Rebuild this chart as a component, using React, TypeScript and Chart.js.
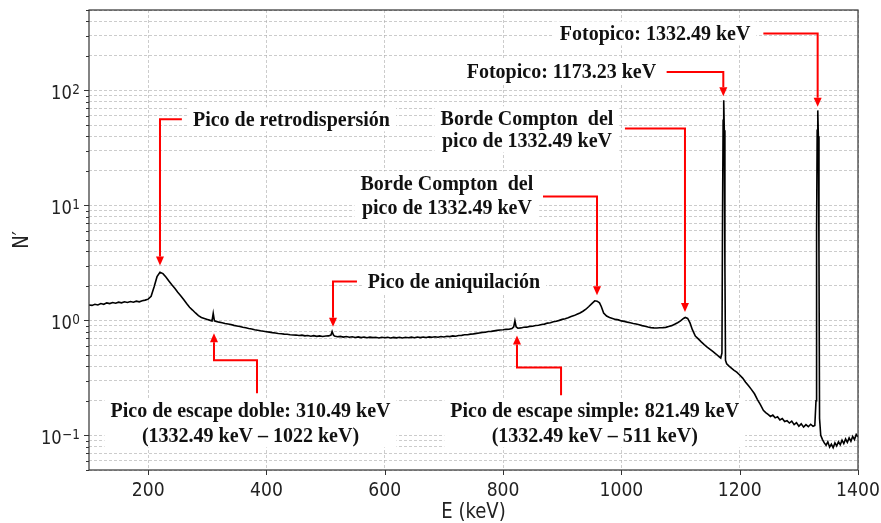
import React, { useEffect, useRef } from 'react';
import { Chart, registerables } from 'chart.js';

Chart.register(...registerables);

// ---------- data ----------
const energyKeV = [
  100, 105, 110, 115, 120, 125, 130, 135, 140, 145,
  150, 155, 160, 165, 170, 175, 180, 185, 190, 195,
  200, 205, 210, 215, 220, 225, 230, 235, 240, 245,
  250, 255, 260, 265, 270, 275, 280, 285, 290, 295,
  300, 305, 308, 310, 312, 315, 320, 325, 330, 335,
  340, 345, 350, 355, 360, 365, 370, 375, 380, 385,
  390, 395, 400, 405, 410, 415, 420, 425, 430, 435,
  440, 445, 450, 455, 460, 465, 470, 475, 480, 485,
  490, 495, 500, 505, 509, 511, 513, 515, 520, 525,
  530, 535, 540, 545, 550, 555, 560, 565, 570, 575,
  580, 585, 590, 595, 600, 605, 610, 615, 620, 625,
  630, 635, 640, 645, 650, 655, 660, 665, 670, 675,
  680, 685, 690, 695, 700, 705, 710, 715, 720, 725,
  730, 735, 740, 745, 750, 755, 760, 765, 770, 775,
  780, 785, 790, 795, 800, 805, 810, 815, 818, 820,
  822, 825, 830, 835, 840, 845, 850, 855, 860, 865,
  870, 875, 880, 885, 890, 895, 900, 905, 910, 915,
  920, 925, 930, 935, 940, 945, 950, 955, 959, 963,
  966, 970, 975, 980, 985, 990, 995, 1000, 1005, 1010,
  1015, 1020, 1025, 1030, 1035, 1040, 1045, 1050, 1055, 1060,
  1065, 1070, 1075, 1080, 1085, 1090, 1095, 1100, 1105, 1108,
  1112, 1116, 1120, 1125, 1130, 1135, 1140, 1145, 1150, 1155,
  1160, 1165, 1168, 1170, 1171, 1172, 1173, 1174, 1175, 1176,
  1178, 1182, 1186, 1190, 1195, 1200, 1205, 1210, 1215, 1220,
  1225, 1230, 1235, 1240, 1244, 1248, 1252, 1256, 1260, 1264,
  1268, 1272, 1276, 1280, 1284, 1288, 1292, 1296, 1300, 1304,
  1308, 1312, 1316, 1320, 1324, 1327, 1329, 1330, 1331, 1332,
  1333, 1334, 1335, 1337, 1340, 1343, 1346, 1349, 1352, 1355,
  1358, 1361, 1364, 1367, 1370, 1373, 1376, 1379, 1382, 1385,
  1388, 1391, 1394, 1397, 1400,
];

const countsN = [
  1.36, 1.35, 1.38, 1.36, 1.40, 1.38, 1.42, 1.40, 1.43, 1.41,
  1.44, 1.42, 1.45, 1.43, 1.46, 1.44, 1.47, 1.45, 1.48, 1.50,
  1.53, 1.62, 1.95, 2.40, 2.62, 2.55, 2.38, 2.20, 2.04, 1.90,
  1.76, 1.64, 1.52, 1.40, 1.30, 1.23, 1.16, 1.10, 1.06, 1.04,
  1.02, 1.00, 0.99, 1.15, 0.99, 0.98, 0.965, 0.955, 0.94, 0.93,
  0.92, 0.905, 0.895, 0.885, 0.87, 0.862, 0.85, 0.842, 0.83, 0.822,
  0.812, 0.805, 0.797, 0.79, 0.782, 0.776, 0.77, 0.766, 0.76, 0.757,
  0.75, 0.746, 0.745, 0.738, 0.744, 0.733, 0.739, 0.728, 0.736, 0.726,
  0.733, 0.724, 0.731, 0.733, 0.745, 0.80, 0.75, 0.73, 0.72, 0.726,
  0.716, 0.723, 0.713, 0.721, 0.71, 0.719, 0.708, 0.716, 0.706, 0.715,
  0.708, 0.713, 0.704, 0.714, 0.706, 0.713, 0.703, 0.712, 0.705, 0.713,
  0.704, 0.714, 0.707, 0.715, 0.706, 0.716, 0.708, 0.717, 0.71, 0.719,
  0.713, 0.721, 0.714, 0.724, 0.718, 0.728, 0.722, 0.733, 0.728, 0.739,
  0.741, 0.749, 0.751, 0.759, 0.763, 0.771, 0.778, 0.786, 0.789, 0.801,
  0.803, 0.811, 0.818, 0.826, 0.828, 0.836, 0.838, 0.848, 0.88, 0.99,
  0.88, 0.855, 0.86, 0.872, 0.873, 0.887, 0.888, 0.902, 0.908, 0.922,
  0.928, 0.947, 0.953, 0.972, 0.983, 1.00, 1.02, 1.035, 1.055, 1.08,
  1.10, 1.13, 1.16, 1.20, 1.25, 1.32, 1.40, 1.48, 1.47, 1.42,
  1.32, 1.16, 1.09, 1.06, 1.04, 1.02, 1.01, 0.99, 0.98, 0.965,
  0.955, 0.94, 0.93, 0.915, 0.90, 0.89, 0.875, 0.865, 0.86, 0.858,
  0.862, 0.865, 0.87, 0.885, 0.90, 0.925, 0.955, 0.99, 1.04, 1.06,
  1.04, 0.95, 0.83, 0.73, 0.69, 0.65, 0.615, 0.585, 0.56, 0.535,
  0.51, 0.485, 0.47, 0.52, 8, 55, 82, 45, 3, 0.45,
  0.42, 0.40, 0.385, 0.37, 0.355, 0.335, 0.315, 0.29, 0.27, 0.25,
  0.23, 0.205, 0.185, 0.165, 0.158, 0.152, 0.146, 0.15, 0.142, 0.145,
  0.136, 0.14, 0.132, 0.134, 0.128, 0.133, 0.124, 0.129, 0.12, 0.126,
  0.118, 0.124, 0.119, 0.125, 0.12, 0.122, 0.2, 6, 45, 67,
  40, 4, 0.14, 0.1, 0.092, 0.086, 0.082, 0.088, 0.079, 0.084,
  0.078, 0.086, 0.081, 0.088, 0.083, 0.091, 0.085, 0.093, 0.087, 0.095,
  0.089, 0.098, 0.092, 0.102, 0.097,
];

const xTickValues = [200, 400, 600, 800, 1000, 1200, 1400];
const yDecadeExponents = [-1, 0, 1, 2];
const yMin = 0.05;
const yMax = 500;
const xMin = 100;
const xMax = 1400;

const xTitle = 'E (keV)';
const yTitle = 'N′';

// annotations: text centres and arrow paths in data coordinates (E keV, N')
type Ann = { lines: string[]; cx: number; ys: number[]; path: [number, number][] };
const annotations: Ann[] = [
  { lines: ['Fotopico: 1332.49 keV'], cx: 1057, ys: [313], path: [[1240, 313], [1331.8, 313], [1331.8, 72]] },
  { lines: ['Fotopico: 1173.23 keV'], cx: 898.7, ys: [144.8], path: [[1076.5, 144.8], [1172.3, 144.8], [1172.3, 89]] },
  { lines: ['Borde Compton  del', 'pico de 1332.49 keV'], cx: 840.4, ys: [57.1, 36.7], path: [[1006, 46.7], [1107.5, 46.7], [1107.5, 1.18]] },
  { lines: ['Borde Compton  del', 'pico de 1332.49 keV'], cx: 705, ys: [15.55, 9.5], path: [[867.5, 11.96], [958.8, 11.96], [958.8, 1.65]] },
  { lines: ['Pico de retrodispersión'], cx: 442.3, ys: [56], path: [[257, 56], [220, 56], [220, 3.0]] },
  { lines: ['Pico de aniquilación'], cx: 717, ys: [2.18], path: [[553, 2.18], [512.5, 2.18], [512.5, 0.88]] },
  { lines: ['Pico de escape doble: 310.49 keV', '(1332.49 keV – 1022 keV)'], cx: 373, ys: [0.165, 0.1], path: [[384, 0.232], [384, 0.449], [311.3, 0.449], [311.3, 0.771]] },
  { lines: ['Pico de escape simple: 821.49 keV', '(1332.49 keV – 511 keV)'], cx: 955, ys: [0.165, 0.1], path: [[898, 0.223], [898, 0.39], [823.5, 0.39], [823.5, 0.74]] },
];

// ---------- styles ----------
const SANS = '"DejaVu Sans", sans-serif';
const SERIF_BOLD = 'bold 20px "Liberation Serif", "Times New Roman", serif';
const RED = '#ff0000';
const GRID = 'rgba(170,170,170,0.75)';
const AXIS = '#333333';
const LABEL = '#222222';
const SQUEEZE = 0.86;

const yGridValues: number[] = [];
for (let k = -2; k <= 2; k++) {
  for (let m = 1; m <= 9; m++) {
    const v = parseFloat((m * Math.pow(10, k)).toPrecision(3));
    if (v >= yMin && v <= yMax) yGridValues.push(v);
  }
}
yGridValues.push(yMax);

const expText = (e: number) => String(e).replace('-', '−');

// draws text horizontally condensed (the reference uses a narrow rendering of DejaVu Sans)
function squeezed(ctx: any, text: string, x: number, y: number, align: 'left' | 'right' | 'center', rotate = 0) {
  ctx.save();
  ctx.translate(x, y);
  if (rotate) ctx.rotate(rotate);
  ctx.scale(SQUEEZE, 1);
  ctx.textAlign = align;
  ctx.fillText(text, 0, 0);
  ctx.restore();
}

const overlayPlugin = {
  id: 'overlay',
  beforeDatasetsDraw(chart: any) {
    const ctx = chart.ctx;
    const xs = chart.scales.x;
    const ys = chart.scales.y;
    ctx.save();
    ctx.font = SERIF_BOLD;
    ctx.fillStyle = '#ffffff';
    annotations.forEach((a) => {
      const cx = xs.getPixelForValue(a.cx);
      let maxW = 0;
      a.lines.forEach((l) => { maxW = Math.max(maxW, ctx.measureText(l).width); });
      const y0 = ys.getPixelForValue(a.ys[0]);
      const y1 = ys.getPixelForValue(a.ys[a.ys.length - 1]);
      ctx.fillRect(cx - maxW / 2 - 6, y0 - 12, maxW + 12, y1 - y0 + 24);
    });
    ctx.restore();
  },
  afterDraw(chart: any) {
    const ctx = chart.ctx;
    const xs = chart.scales.x;
    const ys = chart.scales.y;
    const area = chart.chartArea;
    ctx.save();

    // frame
    ctx.strokeStyle = AXIS;
    ctx.lineWidth = 1.2;
    ctx.strokeRect(area.left, area.top, area.right - area.left, area.bottom - area.top);

    // tick marks
    ctx.lineWidth = 1;
    ctx.beginPath();
    xTickValues.forEach((v) => {
      const x = Math.round(xs.getPixelForValue(v)) + 0.5;
      ctx.moveTo(x, area.bottom);
      ctx.lineTo(x, area.bottom + 5);
    });
    yGridValues.forEach((v) => {
      const y = Math.round(ys.getPixelForValue(v)) + 0.5;
      const major = Math.abs(Math.log10(v) - Math.round(Math.log10(v))) < 1e-6;
      ctx.moveTo(area.left, y);
      ctx.lineTo(area.left - (major ? 5 : 3), y);
    });
    ctx.stroke();

    ctx.fillStyle = LABEL;
    ctx.textBaseline = 'alphabetic';

    // x tick labels
    ctx.font = '20px ' + SANS;
    xTickValues.forEach((v) => {
      squeezed(ctx, String(v), xs.getPixelForValue(v), area.bottom + 26, 'center');
    });

    // y tick labels 10^k
    yDecadeExponents.forEach((e) => {
      const y = ys.getPixelForValue(Math.pow(10, e));
      const right = area.left - 9;
      ctx.font = '14px ' + SANS;
      const et = expText(e);
      const ew = ctx.measureText(et).width * SQUEEZE;
      squeezed(ctx, et, right, y + 3.3, 'right');
      ctx.font = '19px ' + SANS;
      squeezed(ctx, '10', right - ew - 0.5, y + 9, 'right');
    });

    // axis titles
    ctx.font = '21px ' + SANS;
    squeezed(ctx, xTitle, (area.left + area.right) / 2, 518, 'center');
    squeezed(ctx, yTitle, 28, (area.top + area.bottom) / 2, 'center', -Math.PI / 2);

    // arrows
    ctx.strokeStyle = RED;
    ctx.fillStyle = RED;
    ctx.lineWidth = 2;
    ctx.lineJoin = 'miter';
    annotations.forEach((a) => {
      const pts = a.path.map(([e, n]) => [xs.getPixelForValue(e), ys.getPixelForValue(n)]);
      const [tx, ty] = pts[pts.length - 1];
      const [px, py] = pts[pts.length - 2];
      const d = Math.hypot(tx - px, ty - py) || 1;
      const ux = (tx - px) / d;
      const uy = (ty - py) / d;
      const L = 9;
      const W = 4;
      ctx.beginPath();
      ctx.moveTo(pts[0][0], pts[0][1]);
      for (let i = 1; i < pts.length - 1; i++) ctx.lineTo(pts[i][0], pts[i][1]);
      ctx.lineTo(tx - ux * L, ty - uy * L);
      ctx.stroke();
      ctx.beginPath();
      ctx.moveTo(tx, ty);
      ctx.lineTo(tx - ux * L - uy * W, ty - uy * L + ux * W);
      ctx.lineTo(tx - ux * L + uy * W, ty - uy * L - ux * W);
      ctx.closePath();
      ctx.fill();
    });

    // annotation text
    ctx.font = SERIF_BOLD;
    ctx.fillStyle = '#111111';
    ctx.textAlign = 'center';
    ctx.textBaseline = 'middle';
    annotations.forEach((a) => {
      const cx = xs.getPixelForValue(a.cx);
      a.lines.forEach((l, i) => {
        ctx.fillText(l, cx, ys.getPixelForValue(a.ys[i]) + 1);
      });
    });
    ctx.restore();
  },
};

export default function App() {
  const ref = useRef<HTMLCanvasElement>(null);
  useEffect(() => {
    const points = energyKeV.map((e, i) => ({ x: e, y: countsN[i] }));
    const chart = new Chart(ref.current as HTMLCanvasElement, {
      type: 'line',
      data: {
        datasets: [
          {
            data: points,
            borderColor: '#000000',
            borderWidth: 1.6,
            pointRadius: 0,
            tension: 0,
            fill: false,
          },
        ],
      },
      options: {
        animation: false,
        responsive: false,
        devicePixelRatio: 1,
        layout: { padding: { top: 10, right: 23, left: 0, bottom: 0 } },
        plugins: { legend: { display: false }, tooltip: { enabled: false } },
        scales: {
          x: {
            type: 'linear',
            min: xMin,
            max: xMax,
            afterBuildTicks: (s: any) => { s.ticks = xTickValues.map((v) => ({ value: v })); },
            afterFit: (s: any) => { s.height = 53; s.paddingLeft = 0; s.paddingRight = 0; },
            grid: { color: GRID, lineWidth: 0.8, drawTicks: false },
            border: { display: false, dash: [3, 2] },
            ticks: { display: false },
            title: { display: false, text: xTitle },
          },
          y: {
            type: 'logarithmic',
            min: yMin,
            max: yMax,
            afterBuildTicks: (s: any) => { s.ticks = yGridValues.map((v) => ({ value: v })); },
            afterFit: (s: any) => { s.width = 89; s.paddingTop = 0; s.paddingBottom = 0; },
            grid: { color: GRID, lineWidth: 0.8, drawTicks: false },
            border: { display: false, dash: [3, 2] },
            ticks: { display: false },
            title: { display: false, text: yTitle },
          },
        },
      },
      plugins: [overlayPlugin],
    } as any);
    return () => chart.destroy();
  }, []);
  return (
    <canvas
      ref={ref}
      width={881}
      height={523}
      style={{ position: 'fixed', left: 0, top: 0, width: 881, height: 523 }}
    />
  );
}
